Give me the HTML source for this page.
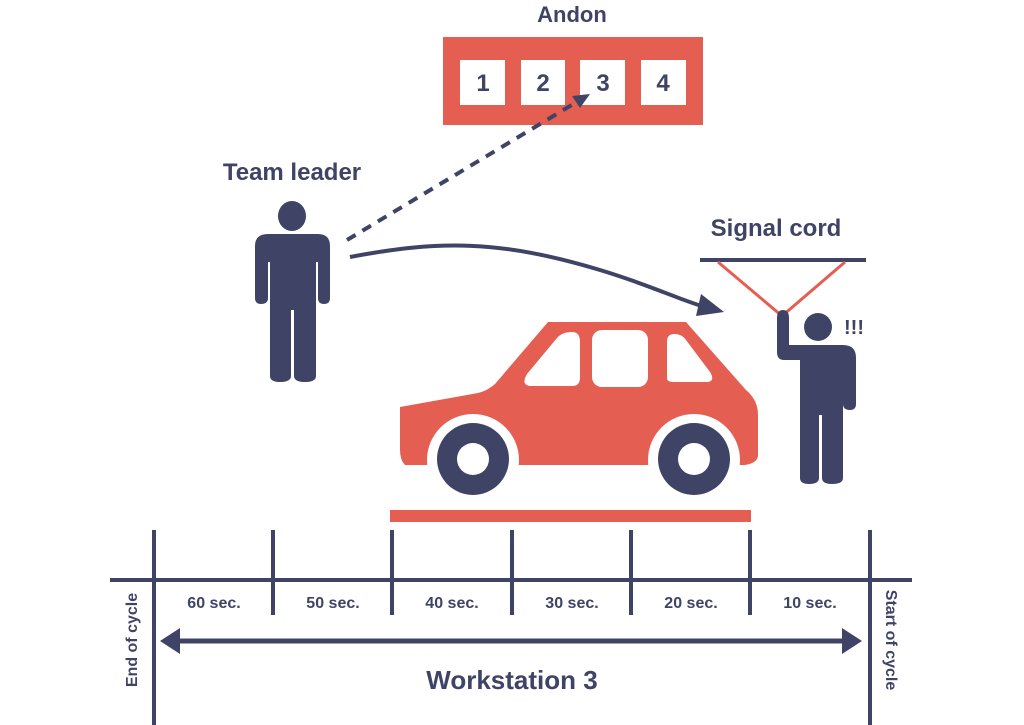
<!DOCTYPE html>
<html><head><meta charset="utf-8"><style>
body{margin:0;background:#fff;}
svg{display:block}
text{font-family:"Liberation Sans",sans-serif;font-weight:bold;fill:#3f4466}
</style></head><body>
<svg width="1024" height="725" viewBox="0 0 1024 725" xmlns="http://www.w3.org/2000/svg">
<!-- Andon -->
<text x="572" y="22" font-size="22" text-anchor="middle">Andon</text>
<rect x="443" y="37" width="260" height="88" fill="#e45f52"/>
<g fill="#fff"><rect x="460" y="60" width="45" height="45"/><rect x="521" y="60" width="44" height="45"/><rect x="580" y="60" width="45" height="45"/><rect x="641" y="60" width="45" height="45"/></g>
<g font-size="24" text-anchor="middle"><text x="483" y="91">1</text><text x="543" y="91">2</text><text x="603" y="91">3</text><text x="663" y="91">4</text></g>
<!-- dashed arrow -->
<line x1="347" y1="240" x2="580" y2="100" stroke="#3f4466" stroke-width="4" stroke-dasharray="10,8"/>
<path d="M590,94 L572,96 L580,108 Z" fill="#3f4466"/>
<!-- Team leader -->
<text x="292" y="180" font-size="24" text-anchor="middle">Team leader</text>
<g fill="#3f4466">
<ellipse cx="292" cy="216" rx="14" ry="15"/>
<path d="M268,234 L318,234 Q330,234 330,246 L330,298 Q330,304 324,304 Q318,304 318,298 L318,262 L316,262 L316,376 Q316,382 305,382 Q294,382 294,376 L294,310 L291,310 L291,376 Q291,382 280,382 Q270,382 270,376 L270,262 L268,262 L268,298 Q268,304 261,304 Q255,304 255,298 L255,246 Q255,234 268,234 Z"/>
</g>
<!-- curved arrow -->
<path d="M350,257 C440,240 500,240 600,270 C650,285 680,300 705,307" fill="none" stroke="#3f4466" stroke-width="4"/>
<path d="M724,312 L701,294 L696,316 Z" fill="#3f4466"/>
<!-- Signal cord -->
<text x="776" y="236" font-size="24" text-anchor="middle">Signal cord</text>
<line x1="700" y1="260" x2="866" y2="260" stroke="#3f4466" stroke-width="4"/>
<path d="M718,262 L782,316 L845,262" fill="none" stroke="#e45f52" stroke-width="3"/>
<!-- worker -->
<g fill="#3f4466">
<circle cx="818" cy="327" r="14"/>
<path d="M777,318 Q777,310 783,310 Q789,310 789,318 L789,345 L843,345 Q856,345 856,358 L856,404 Q856,410 850,410 Q843,410 843,404 L843,372 L843,478 Q843,484 832,484 Q822,484 822,478 L822,415 L819,415 L819,478 Q819,484 809,484 Q800,484 800,478 L800,360 L784,360 Q777,360 777,352 Z"/>
</g>
<g font-size="20"><text x="844" y="334">!!!</text></g>
<!-- car -->
<path d="M400,407 L478,393 Q487,391 495,384 L548,322 L686,322 L746,390 Q758,400 758,415 L758,455 Q758,463 745,465 L405,465 Q400,460 400,450 Z" fill="#e45f52"/>
<g fill="#fff">
<path d="M572,332 Q580,332 580,342 L580,378 Q580,386 572,386 L532,386 Q520,386 527,374 L557,338 Q562,332 572,332 Z"/>
<rect x="592" y="330" width="56" height="57" rx="10"/>
<path d="M674,334 Q667,334 667,342 L667,378 Q667,382 674,382 L706,382 Q716,382 710,372 L686,340 Q682,334 674,334 Z"/>
<circle cx="473" cy="460" r="46"/><circle cx="694" cy="460" r="46"/>
</g>
<circle cx="473" cy="459" r="36" fill="#3f4466"/><circle cx="473" cy="459" r="16" fill="#fff"/>
<circle cx="694" cy="459" r="36" fill="#3f4466"/><circle cx="694" cy="459" r="16" fill="#fff"/>
<rect x="390" y="510" width="361" height="12" fill="#e45f52"/>
<!-- timeline -->
<g stroke="#3f4466" stroke-width="4">
<line x1="110" y1="580" x2="912" y2="580"/>
<line x1="154" y1="530" x2="154" y2="725"/>
<line x1="870" y1="530" x2="870" y2="725"/>
<line x1="273" y1="530" x2="273" y2="615"/>
<line x1="392" y1="530" x2="392" y2="615"/>
<line x1="512" y1="530" x2="512" y2="615"/>
<line x1="631" y1="530" x2="631" y2="615"/>
<line x1="750" y1="530" x2="750" y2="615"/>
<line x1="172" y1="641" x2="845" y2="641" stroke-width="5"/>
</g>
<path d="M160,641 L180,628 L180,654 Z" fill="#3f4466"/>
<path d="M862,641 L842,628 L842,654 Z" fill="#3f4466"/>
<g font-size="16" text-anchor="middle">
<text x="214" y="608">60 sec.</text><text x="333" y="608">50 sec.</text><text x="452" y="608">40 sec.</text><text x="572" y="608">30 sec.</text><text x="691" y="608">20 sec.</text><text x="810" y="608">10 sec.</text>
</g>
<text x="512" y="689" font-size="26" text-anchor="middle">Workstation 3</text>
<text transform="translate(137,640) rotate(-90)" font-size="16" text-anchor="middle">End of cycle</text>
<text transform="translate(886,640) rotate(90)" font-size="16" text-anchor="middle">Start of cycle</text>
</svg>
</body></html>
